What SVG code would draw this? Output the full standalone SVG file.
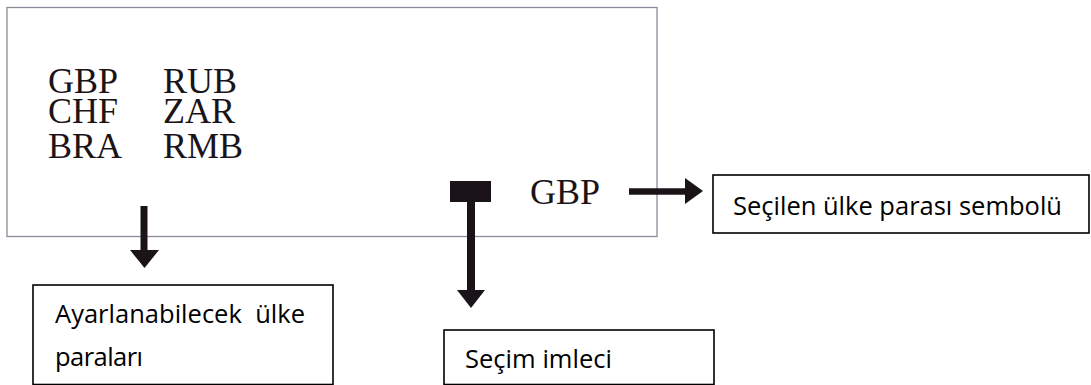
<svg xmlns="http://www.w3.org/2000/svg" width="1091" height="385" viewBox="0 0 1091 385">
<style>
.cur{font-family:"Liberation Serif","Times New Roman",serif;font-size:36px;fill:#1a1418}
.lbl{font-family:"Open Sans","Liberation Sans",sans-serif;font-size:25.5px;fill:#000}
.box{fill:#fff;stroke:#000;stroke-width:1.6}
.arr{stroke:#1a1418;fill:none}
.head{fill:#1a1418}
</style>
<rect width="1091" height="385" fill="#fff"/>
<g id="display">
<rect x="7" y="7.5" width="650" height="229" fill="none" stroke="#8f8898" stroke-width="1.3"/>
<text class="cur" x="48" y="93">GBP</text>
<text class="cur" x="163" y="93">RUB</text>
<text class="cur" x="48" y="123">CHF</text>
<text class="cur" x="163" y="123">ZAR</text>
<text class="cur" x="48" y="158">BRA</text>
<text class="cur" x="163" y="158">RMB</text>
<text class="cur" x="530" y="204">GBP</text>
<rect id="cursor" x="450" y="181" width="41" height="21" fill="#1a1418"/>
</g>
<g id="connectors">
<line class="arr" x1="144" y1="206" x2="144" y2="251" stroke-width="7"/>
<polygon class="head" points="130,250 159,250 144.5,268"/>
<line class="arr" x1="471" y1="201" x2="471" y2="291" stroke-width="8"/>
<polygon class="head" points="457,290 485,290 471,308"/>
<line class="arr" x1="629" y1="191.5" x2="686" y2="191.5" stroke-width="6.5"/>
<polygon class="head" points="685,178 685,204 703,191"/>
</g>
<g id="label-available">
<rect class="box" x="33" y="285" width="300" height="99.5"/>
<text class="lbl" x="55" y="323" textLength="250" style="white-space:pre">Ayarlanabilecek  ülke</text>
<text class="lbl" x="55" y="366" textLength="88">paraları</text>
</g>
<g id="label-cursor">
<rect class="box" x="444" y="330" width="270" height="54.5"/>
<text class="lbl" x="465" y="368" textLength="147">Seçim imleci</text>
</g>
<g id="label-selected">
<rect class="box" x="713" y="175" width="376" height="58"/>
<text class="lbl" x="733" y="215" textLength="329">Seçilen ülke parası sembolü</text>
</g>
</svg>
